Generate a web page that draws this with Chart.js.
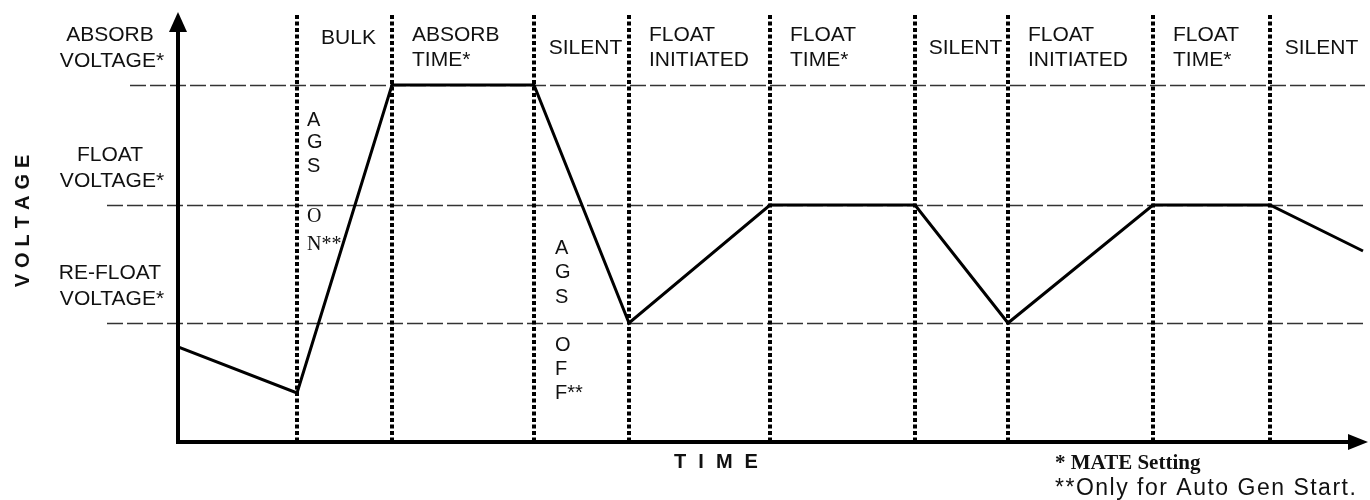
<!DOCTYPE html>
<html>
<head>
<meta charset="utf-8">
<script src="https://cdn.jsdelivr.net/npm/chart.js@4.4.0/dist/chart.umd.min.js"></script>
<style>
  body { margin: 0; background: #fff; }
  #wrap { width: 1370px; height: 500px; position: relative; }
</style>
</head>
<body>
<div id="wrap"><canvas id="chargeChart"></canvas></div>
<script>
// schematic units: time and voltage have no real scale
const timePoints = [0, 11.9, 21.4, 35.6, 45.1, 59.2, 73.7, 83.0, 97.5, 109.2, 118.5];
const voltagePoints = [9.5, 4.9, 35.7, 35.7, 11.9, 23.7, 23.7, 11.9, 23.7, 23.7, 19.1];

const phaseBounds = [11.9, 21.4, 35.6, 45.1, 59.2, 73.7, 83.0, 97.5, 109.2];
const phaseLabels = [
  ['BULK'], ['ABSORB', 'TIME*'], ['SILENT'], ['FLOAT', 'INITIATED'], ['FLOAT', 'TIME*'],
  ['SILENT'], ['FLOAT', 'INITIATED'], ['FLOAT', 'TIME*'], ['SILENT'],
];

const levelValues = [35.7, 23.7, 11.9];
const levelLabels = [['ABSORB', 'VOLTAGE*'], ['FLOAT', 'VOLTAGE*'], ['RE-FLOAT', 'VOLTAGE*']];

const agsOn = ['A', 'G', 'S', 'O', 'N**'];
const agsOff = ['A', 'G', 'S', 'O', 'F', 'F**'];
const footnotes = ['* MATE Setting', '**Only for Auto Gen Start.'];

const timeMax = 118.7;
const voltageMax = 42.7;

const SANS = '"Liberation Sans", Arial, sans-serif';
const SERIF = '"Liberation Serif", "Times New Roman", serif';

function spacedText(ctx, text, cx, cy, gap) {
  const widths = [...text].map(c => ctx.measureText(c).width);
  const total = widths.reduce((a, b) => a + b, 0) + gap * (text.length - 1);
  let x = cx - total / 2;
  ctx.textAlign = 'left';
  [...text].forEach((c, i) => {
    ctx.fillText(c, x, cy);
    x += widths[i] + gap;
  });
}

const guides = {
  id: 'guides',
  beforeDatasetsDraw(chart) {
    const { ctx, chartArea: { top, bottom, left, right }, scales: { x, y } } = chart;
    ctx.save();
    // level lines
    ctx.strokeStyle = '#333';
    ctx.lineWidth = 1.5;
    ctx.setLineDash([16, 4]);
    levelValues.forEach((v, i) => {
      const py = Math.round(y.getPixelForValue(v)) + 0.5;
      ctx.beginPath();
      ctx.moveTo(i === 0 ? 130 : 107, py);
      ctx.lineTo(right, py);
      ctx.stroke();
    });
    // phase boundaries
    ctx.strokeStyle = '#000';
    ctx.lineWidth = 4;
    ctx.setLineDash([4, 2.5]);
    phaseBounds.forEach(t => {
      const px = Math.round(x.getPixelForValue(t));
      ctx.beginPath();
      ctx.moveTo(px, top);
      ctx.lineTo(px, bottom);
      ctx.stroke();
    });
    ctx.restore();
  },
  afterDatasetsDraw(chart) {
    const { ctx, chartArea: { top, bottom, left, right }, scales: { x, y } } = chart;
    ctx.save();
    // axes with arrows
    ctx.strokeStyle = '#000';
    ctx.fillStyle = '#000';
    ctx.lineWidth = 4;
    ctx.beginPath();
    ctx.moveTo(left, 28);
    ctx.lineTo(left, bottom);
    ctx.lineTo(1352, bottom);
    ctx.stroke();
    ctx.beginPath();
    ctx.moveTo(left, 12);
    ctx.lineTo(left - 9, 32);
    ctx.lineTo(left + 9, 32);
    ctx.closePath();
    ctx.fill();
    ctx.beginPath();
    ctx.moveTo(1368, bottom);
    ctx.lineTo(1348, bottom - 8);
    ctx.lineTo(1348, bottom + 8);
    ctx.closePath();
    ctx.fill();

    ctx.fillStyle = '#111';
    ctx.textBaseline = 'middle';
    ctx.font = '21px ' + SANS;

    // level labels
    ctx.textAlign = 'center';
    levelValues.forEach((v, i) => {
      const py = y.getPixelForValue(v);
      ctx.fillText(levelLabels[i][0], 110, py - 50);
      ctx.fillText(levelLabels[i][1], 112, py - 24);
    });

    // phase labels
    phaseLabels.forEach((lines, i) => {
      const x0 = x.getPixelForValue(phaseBounds[i]);
      const x1 = i + 1 < phaseBounds.length ? x.getPixelForValue(phaseBounds[i + 1]) : right;
      if (lines.length === 2) {
        ctx.textAlign = 'left';
        ctx.fillText(lines[0], x0 + 20, 35);
        ctx.fillText(lines[1], x0 + 20, 60);
      } else {
        ctx.textAlign = 'center';
        ctx.fillText(lines[0], (x0 + x1) / 2 + 4, i === 0 ? 38 : 48);
      }
    });

    // AGS markers
    ctx.textAlign = 'left';
    const onX = x.getPixelForValue(phaseBounds[0]) + 10;
    const onY = [120, 142, 166, 217, 245];
    agsOn.forEach((s, i) => {
      ctx.font = (i < 3 ? '20px ' + SANS : '20px ' + SERIF);
      ctx.fillText(s, onX, onY[i]);
    });
    const offX = x.getPixelForValue(phaseBounds[2]) + 21;
    const offY = [248, 272, 297, 345, 369, 393];
    ctx.font = '20px ' + SANS;
    agsOff.forEach((s, i) => ctx.fillText(s, offX, offY[i]));

    // axis titles
    ctx.font = 'bold 20px ' + SANS;
    spacedText(ctx, 'TIME', 716, 462, 12);
    ctx.save();
    ctx.translate(23, 221);
    ctx.rotate(-Math.PI / 2);
    spacedText(ctx, 'VOLTAGE', 0, 0, 6);
    ctx.restore();

    // footnotes
    ctx.textAlign = 'left';
    ctx.font = 'bold 21px ' + SERIF;
    ctx.fillText(footnotes[0], 1055, 464);
    ctx.font = '23px ' + SANS;
    ctx.letterSpacing = '1.5px';
    ctx.fillText(footnotes[1], 1055, 489);
    ctx.letterSpacing = '0px';
    ctx.restore();
  },
};

new Chart(document.getElementById('chargeChart'), {
  type: 'line',
  data: {
    datasets: [{
      data: timePoints.map((t, i) => ({ x: t, y: voltagePoints[i] })),
      borderColor: '#000',
      borderWidth: 3,
      pointRadius: 0,
      tension: 0,
      fill: false,
    }],
  },
  options: {
    responsive: true,
    maintainAspectRatio: false,
    animation: false,
    layout: { padding: { left: 178, right: 5, top: 15, bottom: 58 } },
    plugins: { legend: { display: false }, tooltip: { enabled: false } },
    scales: {
      x: { type: 'linear', min: 0, max: timeMax, display: false },
      y: { type: 'linear', min: 0, max: voltageMax, display: false },
    },
  },
  plugins: [guides],
});
</script>
</body>
</html>
